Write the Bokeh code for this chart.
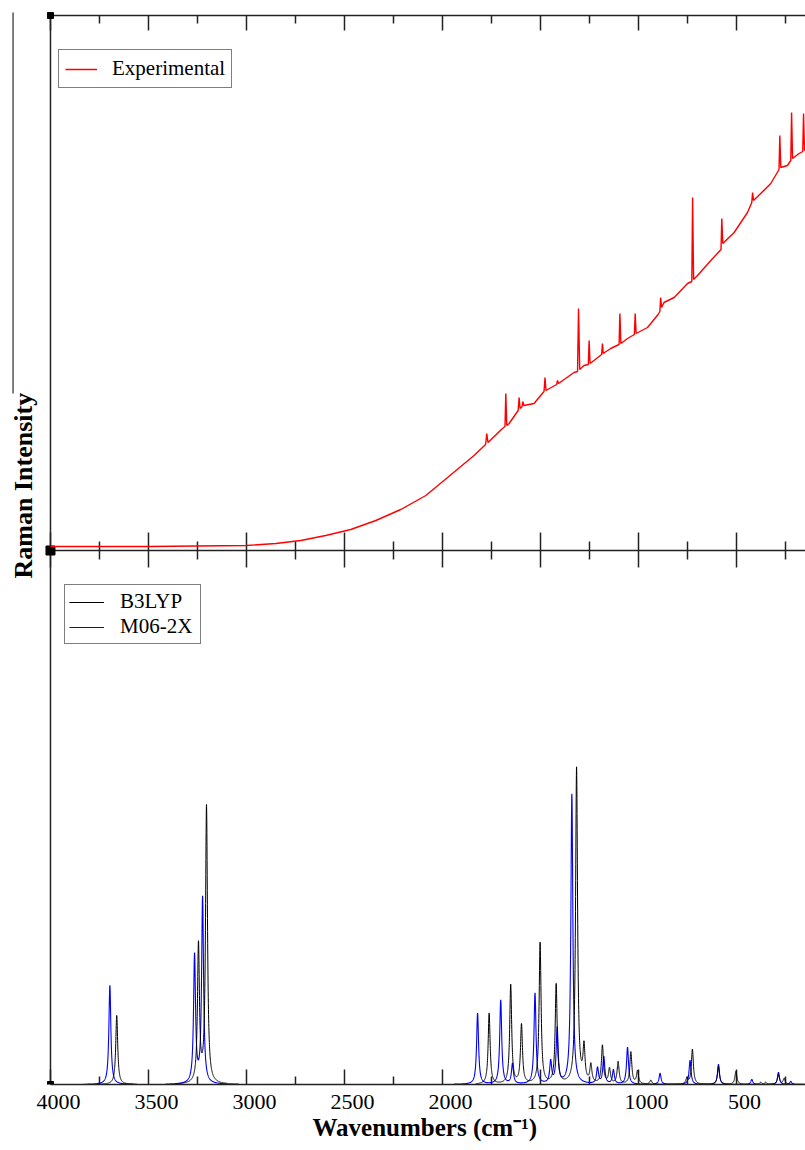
import numpy as np
from bokeh.plotting import figure
from bokeh.models import (Range1d, FixedTicker, LinearAxis, Legend, LegendItem,
                          Title, Label)
from bokeh.embed import file_html
from bokeh.resources import INLINE

# ---------------- data ----------------
major_ticks = [4000, 3500, 3000, 2500, 2000, 1500, 1000, 500, 0]
minor_ticks = [3750, 3250, 2750, 2250, 1750, 1250, 750, 250]
tick_labels = ["4000", "3500", "3000", "2500", "2000", "1500", "1000", "500", "0"]

# experimental spectrum (vertices: wavenumber, intensity)
exp_wn = [4000, 3500, 3000, 2850, 2723, 2596, 2468, 2340, 2213, 2085, 1974, 1839,
          1780, 1774, 1768, 1694, 1681, 1677, 1672, 1660,
          1614, 1609, 1604, 1594, 1590, 1585, 1533, 1482, 1477, 1472,
          1418, 1413, 1408, 1329, 1311, 1306, 1300, 1278, 1256, 1252, 1247,
          1188, 1184, 1180, 1142, 1099, 1095, 1090, 1056, 1021, 1017, 1012,
          954, 900, 891, 887, 882, 870, 818, 750, 728, 724, 719, 699, 631,
          579, 575, 570, 512, 444, 422, 418, 413, 325, 283, 279, 274, 240,
          223, 219, 214, 181, 162, 158, 153, 147]
exp_int = [3, 3, 4, 6, 9, 14, 20, 29, 40, 54, 72, 94,
           105, 116, 107, 121, 123, 156, 124, 126,
           139, 152, 141, 143, 148, 144, 146, 158, 172, 159,
           165, 169, 166, 177, 178, 241, 180, 184, 185, 209, 186,
           195, 206, 196, 201, 205, 236, 206, 211, 215, 236, 216,
           222, 235, 238, 252, 242, 247, 252, 266, 268, 352, 270, 274, 289,
           300, 331, 306, 317, 337, 347, 357, 349, 366, 380, 414, 382, 384,
           389, 437, 391, 396, 398, 436, 399, 400]

# calculated Raman bands (position in cm-1, peak intensity)
b3lyp_pos = [3662, 3245, 3204, 1762, 1652, 1597, 1502, 1420, 1316, 1278,
             1243, 1184, 1148, 1104, 1039, 1005, 937, 753, 725, 592, 503,
             377, 351, 286, 257]
b3lyp_int = [69, 138, 277, 71, 99, 59, 141, 99, 316, 35,
             18, 38, 15, 22, 32, 13, 4, 6, 35, 18, 13,
             2, 2, 10, 6]
m062x_pos = [3697, 3265, 3224, 1821, 1703, 1643, 1528, 1448, 1415, 1340,
             1209, 1177, 1128, 1056, 890, 737, 592, 422, 286, 223]
m062x_int = [99, 128, 186, 71, 84, 20, 91, 22, 55, 290,
             16, 27, 14, 37, 11, 24, 20, 5, 12, 3]

b3lyp_windows = [(3760, 3560), (3360, 3040), (1830, 148)]
m062x_windows = [(3830, 3580), (3412, 3100), (1942, 148)]

HWHM = 6.0          # Lorentzian half width used to broaden the calculated bands
PANEL = 534         # height (data units) of the lower panel; upper panel sits above it
TOP = 1069          # top edge of the upper panel
LABEL_SHIFT = 41    # tick labels sit slightly right of their ticks in the original


def broadened(pos, inten, windows):
    xs, ys = [], []
    for hi, lo in windows:
        x = np.arange(hi, lo - 0.5, -0.5)
        y = np.zeros_like(x)
        for c, h in zip(pos, inten):
            y += h * HWHM ** 2 / ((x - c) ** 2 + HWHM ** 2)
        xs.append(list(x))
        ys.append(list(y))
    return xs, ys


AX = "#222222"
SERIF = "Liberation Serif"
X0, X1 = 4000, 148

p = figure(width=805, height=1150, x_range=Range1d(4255, X1), y_range=Range1d(0, 1084),
           output_backend="svg", toolbar_location=None,
           x_axis_location=None, y_axis_location=None,
           min_border_left=0, min_border_right=0, min_border_top=0, min_border_bottom=66,
           outline_line_color=None, background_fill_color="white")
p.grid.visible = False

label_pos = [t - LABEL_SHIFT for t in major_ticks[:-1]]
xb = LinearAxis(ticker=FixedTicker(ticks=label_pos, minor_ticks=[]),
                major_label_overrides={lp: lab for lp, lab in zip(label_pos, tick_labels)},
                bounds=(0, X0),
                major_tick_in=0, major_tick_out=0, minor_tick_in=0, minor_tick_out=0,
                axis_line_color=AX, axis_line_width=1.5,
                major_tick_line_color=None, minor_tick_line_color=None,
                major_label_text_font=SERIF, major_label_text_font_size="22px",
                major_label_text_color="black", major_label_standoff=10)
p.add_layout(xb, "below")
p.add_layout(Title(text="Wavenumbers (cm\u207b\u00b9)", align="left", offset=312,
                   text_font=SERIF, text_font_style="bold", text_font_size="25px",
                   text_color="black", standoff=1), "below")

# frame lines (left, top, panel separator)
p.segment(x0=[X0, X0, X0], y0=[0, TOP, PANEL], x1=[X0, X1, X1], y1=[TOP, TOP, PANEL],
          line_color=AX, line_width=1.5)
# ticks on the bottom edge, the top edge and on the separator
n_maj, n_min = len(major_ticks), len(minor_ticks)
p.segment(x0=major_ticks, x1=major_ticks, y0=[0] * n_maj, y1=[15] * n_maj,
          line_color=AX, line_width=1.5)
p.segment(x0=minor_ticks, x1=minor_ticks, y0=[0] * n_min, y1=[8] * n_min,
          line_color=AX, line_width=1.5)
p.segment(x0=major_ticks, x1=major_ticks, y0=[TOP - 15] * n_maj, y1=[TOP] * n_maj,
          line_color=AX, line_width=1.5)
p.segment(x0=minor_ticks, x1=minor_ticks, y0=[TOP - 8] * n_min, y1=[TOP] * n_min,
          line_color=AX, line_width=1.5)
p.segment(x0=major_ticks, x1=major_ticks, y0=[PANEL - 17] * n_maj, y1=[PANEL + 18] * n_maj,
          line_color=AX, line_width=1.5)
p.segment(x0=minor_ticks, x1=minor_ticks, y0=[PANEL - 9] * n_min, y1=[PANEL + 9] * n_min,
          line_color=AX, line_width=1.5)
# small corner marks on the left edge
p.scatter(x=[X0, X0, X0], y=[0, PANEL, TOP], size=[6, 9, 6], marker="square",
          color="black")
# stray frame line at the far left of the original figure
p.segment(x0=[4191], x1=[4191], y0=[691], y1=[1072], line_color="#555555", line_width=1.5)

p.add_layout(Label(x=4138, y=506, text="Raman Intensity", angle=90, angle_units="deg",
                   text_align="left", text_baseline="middle",
                   text_font=SERIF, text_font_style="bold", text_font_size="26px",
                   text_color="black"))

# spectra
r_exp = p.line(exp_wn, [PANEL + 1 + v for v in exp_int], line_color="#ff0000",
               line_width=1.4)
bx, by = broadened(b3lyp_pos, b3lyp_int, b3lyp_windows)
mx, my = broadened(m062x_pos, m062x_int, m062x_windows)
r_m06 = p.multi_line(mx, my, line_color="#0000ff", line_width=1.1)
r_b3 = p.multi_line(bx, by, line_color="black", line_width=1)

common = dict(border_line_color="black", border_line_width=1.2,
              label_text_font=SERIF, label_text_font_size="21px",
              label_text_color="black", background_fill_alpha=1, margin=0)
leg1 = Legend(items=[LegendItem(label="Experimental", renderers=[r_exp])],
              location=(58, 996), padding=6, spacing=0, label_standoff=15,
              glyph_width=32, glyph_height=20, label_height=20, **common)
leg2 = Legend(items=[LegendItem(label="B3LYP", renderers=[r_b3]),
                     LegendItem(label="M06-2X", renderers=[r_m06])],
              location=(64, 440), padding=4, spacing=0, label_standoff=16,
              glyph_width=35, glyph_height=20, label_height=20, label_width=76, **common)
p.add_layout(leg1)
p.add_layout(leg2)

open("out.html", "w").write(file_html(p, INLINE))
